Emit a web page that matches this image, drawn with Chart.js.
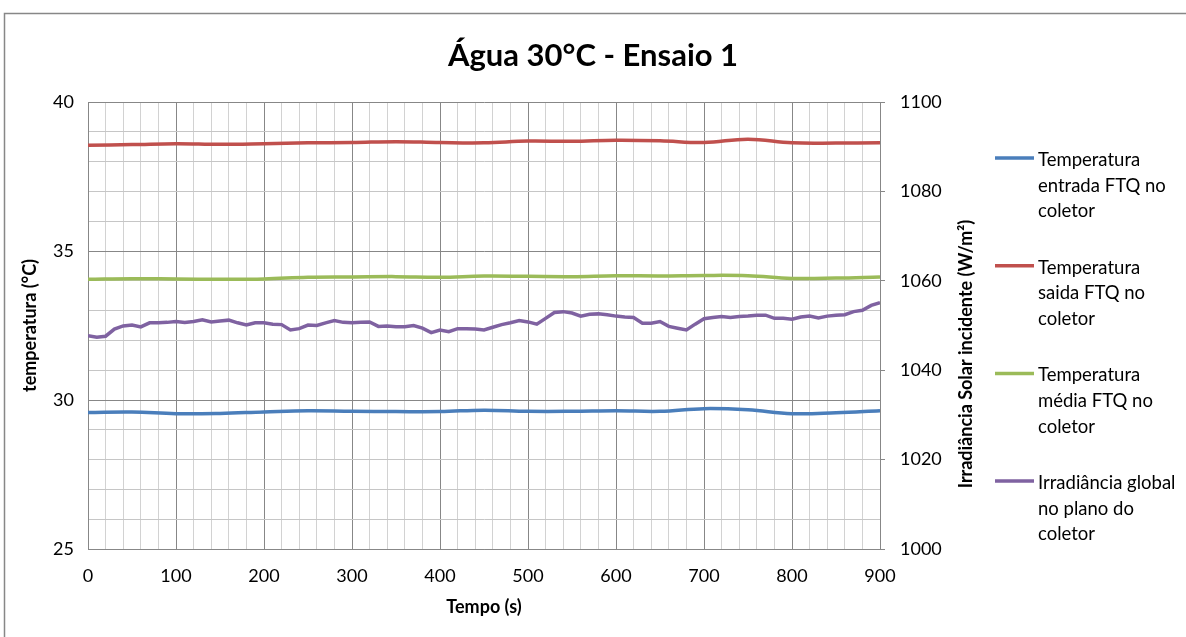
<!DOCTYPE html>
<html lang="pt-BR">
<head>
<meta charset="utf-8">
<title>Água 30°C - Ensaio 1</title>
<script src="https://cdn.jsdelivr.net/npm/chart.js@4/dist/chart.umd.min.js"></script>
<style>
  html, body { margin: 0; background: #fff; }
  canvas { display: block; }
</style>
</head>
<body>
<canvas id="grafico" width="1186" height="637"></canvas>
<script>
// Temperaturas (°C) lidas a cada 50 s
const tempo = [0, 50, 100, 150, 200, 250, 300, 350, 400, 450, 500, 550, 600, 650, 700, 750, 800, 850, 900];
const tempEntrada = [29.58, 29.60, 29.54, 29.55, 29.60, 29.64, 29.62, 29.61, 29.61, 29.66, 29.62, 29.62, 29.64, 29.62, 29.71, 29.67, 29.54, 29.57, 29.64];
const tempSaida = [38.55, 38.57, 38.60, 38.58, 38.60, 38.63, 38.64, 38.67, 38.64, 38.63, 38.69, 38.68, 38.72, 38.70, 38.64, 38.75, 38.63, 38.62, 38.63];
const tempMedia = [34.05, 34.07, 34.06, 34.05, 34.06, 34.12, 34.13, 34.14, 34.12, 34.16, 34.15, 34.14, 34.17, 34.16, 34.18, 34.17, 34.08, 34.09, 34.13];

// Irradiância global (W/m²) lida a cada 10 s
const tempoIrr = [0, 10, 20, 30, 40, 50, 60, 70, 80, 90,
  100, 110, 120, 130, 140, 150, 160, 170, 180, 190,
  200, 210, 220, 230, 240, 250, 260, 270, 280, 290,
  300, 310, 320, 330, 340, 350, 360, 370, 380, 390,
  400, 410, 420, 430, 440, 450, 460, 470, 480, 490,
  500, 510, 520, 530, 540, 550, 560, 570, 580, 590,
  600, 610, 620, 630, 640, 650, 660, 670, 680, 690,
  700, 710, 720, 730, 740, 750, 760, 770, 780, 790,
  800, 810, 820, 830, 840, 850, 860, 870, 880, 890, 900];
const irradiancia = [1047.7, 1047.4, 1047.6, 1049.2, 1049.9, 1050.1, 1049.7, 1050.6, 1050.6, 1050.7,
  1050.9, 1050.7, 1050.9, 1051.3, 1050.8, 1051.0, 1051.2, 1050.6, 1050.1, 1050.6,
  1050.6, 1050.3, 1050.2, 1049.0, 1049.3, 1050.1, 1050.0, 1050.6, 1051.1, 1050.7,
  1050.6, 1050.7, 1050.8, 1049.8, 1049.9, 1049.7, 1049.7, 1050.0, 1049.4, 1048.4,
  1049.0, 1048.6, 1049.3, 1049.3, 1049.2, 1049.0, 1049.6, 1050.2, 1050.6, 1051.1,
  1050.8, 1050.3, 1051.6, 1052.9, 1053.1, 1052.8, 1052.1, 1052.5, 1052.6, 1052.4,
  1052.1, 1051.9, 1051.8, 1050.5, 1050.5, 1050.9, 1049.8, 1049.4, 1049.0, 1050.3,
  1051.5, 1051.8, 1052.0, 1051.8, 1052.0, 1052.1, 1052.3, 1052.3, 1051.6, 1051.6,
  1051.4, 1051.9, 1052.1, 1051.7, 1052.1, 1052.3, 1052.4, 1053.1, 1053.4, 1054.5, 1055.1];

const legendas = [
  ["Temperatura", "entrada FTQ no", "coletor"],
  ["Temperatura", "saida FTQ no", "coletor"],
  ["Temperatura", "média FTQ no", "coletor"],
  ["Irradiância global", "no plano do", "coletor"]
];
const cores = ["#4a7ebb", "#c0504d", "#9bbb59", "#7f62a1"];

const FONTE = "Lato, 'Open Sans', sans-serif";
const CINZA = "#878787";

function pares(xs, ys) {
  return xs.map((x, i) => ({ x: x, y: ys[i] }));
}

// moldura cinza em volta do gráfico
const moldura = {
  id: "moldura",
  beforeDraw(chart) {
    const ctx = chart.ctx;
    ctx.save();
    ctx.fillStyle = "#fff";
    ctx.fillRect(0, 0, chart.width, chart.height);
    ctx.strokeStyle = CINZA;
    ctx.lineWidth = 1.5;
    ctx.beginPath();
    ctx.moveTo(4.5, chart.height);
    ctx.lineTo(4.5, 13.5);
    ctx.lineTo(chart.width, 13.5);
    ctx.stroke();
    ctx.restore();
  }
};

// título do eixo da direita e legenda ao lado
const extras = {
  id: "extras",
  afterDraw(chart) {
    const ctx = chart.ctx;
    ctx.save();
    ctx.fillStyle = "#000";
    ctx.font = "bold 18px " + FONTE;
    ctx.textAlign = "center";
    ctx.textBaseline = "middle";
    ctx.translate(966, 354);
    ctx.rotate(-Math.PI / 2);
    ctx.fillText("Irradiância Solar incidente (W/m²)", 0, 0);
    ctx.restore();

    ctx.save();
    ctx.font = "18.5px " + FONTE;
    ctx.textAlign = "left";
    ctx.textBaseline = "middle";
    chart.data.datasets.forEach((ds, i) => {
      const y = 158 + i * 107.7;
      ctx.strokeStyle = ds.borderColor;
      ctx.lineWidth = 3.5;
      ctx.beginPath();
      ctx.moveTo(995, y);
      ctx.lineTo(1034, y);
      ctx.stroke();
      ctx.fillStyle = "#000";
      legendas[i].forEach((linha, k) => ctx.fillText(linha, 1038, y + 2 + k * 25.7));
    });
    ctx.restore();
  }
};

const ctx = document.getElementById("grafico").getContext("2d");

const grafico = new Chart(ctx, {
  type: "line",
  data: {
    datasets: [
      { label: legendas[0].join(" "), data: pares(tempo, tempEntrada), borderColor: cores[0], yAxisID: "y", tension: 0.4 },
      { label: legendas[1].join(" "), data: pares(tempo, tempSaida), borderColor: cores[1], yAxisID: "y", tension: 0.4 },
      { label: legendas[2].join(" "), data: pares(tempo, tempMedia), borderColor: cores[2], yAxisID: "y", tension: 0.4 },
      { label: legendas[3].join(" "), data: pares(tempoIrr, irradiancia), borderColor: cores[3], yAxisID: "y1", tension: 0 }
    ]
  },
  options: {
    responsive: false,
    animation: false,
    layout: { padding: 0 },
    elements: {
      point: { radius: 0 },
      line: { borderWidth: 3.5, fill: false }
    },
    plugins: {
      legend: { display: false },
      tooltip: { enabled: false },
      title: {
        display: true,
        text: "Água 30°C - Ensaio 1",
        color: "#000",
        font: { family: FONTE, size: 31, weight: "bold" },
        padding: { top: 37.4, bottom: 27.4 }
      }
    },
    scales: {
      x: {
        type: "linear",
        min: 0,
        max: 900,
        afterFit(s) { s.height = 88; },
        ticks: {
          stepSize: 20,
          autoSkip: false,
          maxRotation: 0,
          padding: 16,
          color: "#000",
          font: { family: FONTE, size: 18 },
          callback: v => (v % 100 === 0 ? v : "")
        },
        grid: {
          drawTicks: false,
          color: c => (c.tick && c.tick.value % 100 === 0 ? CINZA : "#d2d2d2")
        },
        border: { color: CINZA },
        title: {
          display: true,
          text: "Tempo (s)",
          color: "#000",
          font: { family: FONTE, size: 18, weight: "bold" },
          padding: { top: 0, bottom: 19.2 }
        }
      },
      y: {
        position: "left",
        min: 25,
        max: 40,
        afterFit(s) { s.width = 88; },
        ticks: {
          stepSize: 1,
          autoSkip: false,
          padding: 14,
          color: "#000",
          font: { family: FONTE, size: 18 },
          callback: v => (v % 5 === 0 ? v : "")
        },
        grid: {
          drawTicks: false,
          color: c => (c.tick && c.tick.value % 5 === 0 ? CINZA : "#c6c6c6")
        },
        border: { color: CINZA },
        title: {
          display: true,
          text: "temperatura (°C)",
          color: "#000",
          font: { family: FONTE, size: 18, weight: "bold" },
          padding: { top: 19.2, bottom: 0 }
        }
      },
      y1: {
        position: "right",
        min: 1000,
        max: 1100,
        afterFit(s) { s.width = 306; },
        ticks: {
          stepSize: 20,
          padding: 15,
          color: "#000",
          font: { family: FONTE, size: 18 },
          callback: v => String(v)
        },
        grid: {
          drawOnChartArea: false,
          tickLength: 5,
          color: CINZA
        },
        border: { color: CINZA }
      }
    }
  },
  plugins: [moldura, extras]
});
</script>
</body>
</html>
